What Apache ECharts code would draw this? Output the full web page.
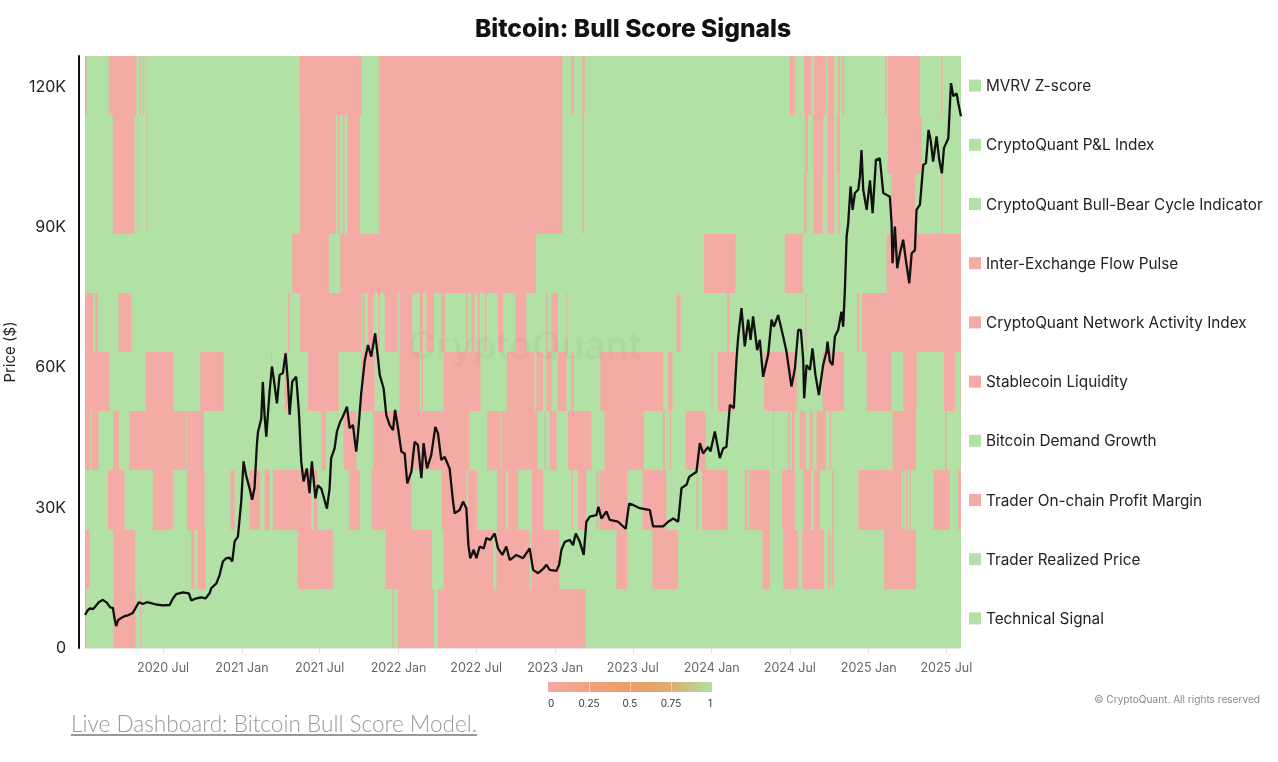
<!DOCTYPE html>
<html>
<head>
<meta charset="utf-8">
<title>Bitcoin: Bull Score Signals</title>
<script src="https://cdn.jsdelivr.net/npm/echarts@6/dist/echarts.min.js"></script>
<style>
  html, body { margin: 0; background: #fff; }
  #chart { width: 1278px; height: 762px; }
  #dashboard {
    position: absolute; left: 71px; top: 710px;
    font: 300 22.6px Lato, sans-serif; color: #999; text-decoration: underline;
  }
</style>
</head>
<body>
<div id="chart"></div>
<a id="dashboard">Live Dashboard: Bitcoin Bull Score Model.</a>
<script>
// indicator rows, top to bottom
const indicators = ['MVRV Z-score', 'CryptoQuant P&L Index', 'CryptoQuant Bull-Bear Cycle Indicator',
  'Inter-Exchange Flow Pulse', 'CryptoQuant Network Activity Index', 'Stablecoin Liquidity',
  'Bitcoin Demand Growth', 'Trader On-chain Profit Margin', 'Trader Realized Price', 'Technical Signal'];
// score on the last day, colours the legend squares
const latestScore = [1, 1, 1, 0, 0, 0, 1, 0, 1, 1];

// bearish periods of each row as start,end pairs, in years since 2020-01-01
const mvrvRed = [0,.01, .152,.327, .352,.358, .37,.377, .39,.393, 1.37,1.764, 1.876,3.047, 3.105,3.119, 3.175,3.19,
  4.499,4.531, 4.588,4.637, 4.652,4.729, 4.739,4.782, 4.807,4.818, 4.833,4.844, 5.105,5.116, 5.126,5.329, 5.467,5.474];
const pnlRed = [.178,.316, .335,.34, .393,.399, 1.374,1.6, 1.614,1.625, 1.646,1.657, 1.674,1.753, 1.876,3.047, 3.175,3.183,
  4.594,4.614, 4.647,4.711, 4.739,4.782, 4.797,4.818, 5.123,5.34];
const bullBearRed = [.178,.316, .335,.34, .393,.399, 1.374,1.6, 1.614,1.625, 1.646,1.657, 1.674,1.753, 1.876,3.047, 3.175,3.183,
  4.59,4.605, 4.652,4.708, 4.739,4.782, 4.807,4.813, 5.144,5.297, 5.467,5.474];
const flowPulseRed = [1.323,1.557, 1.63,2.877, 3.95,4.152, 4.467,4.58, 5.116,5.591];
const networkRed = [0,.054, .065,.082, .214,.295, 1.295,1.306, 1.374,1.764, 1.774,1.785, 1.806,1.838, 1.87,1.881, 1.913,1.997,
  2.008,2.089, 2.136,2.157, 2.179,2.227, 2.275,2.296, 2.434,2.444, 2.466,2.487, 2.508,2.519, 2.551,2.562, 2.636,2.668,
  2.747,2.817, 2.945,2.955, 2.977,3.019, 3.073,3.079, 3.775,3.801, 4.098,4.111, 4.599,4.605, 4.928,4.941, 4.96,5.591];
const stablecoinRed = [0,.156, .386,.565, .736,.884, 1.189,1.194, 1.274,1.293, 1.423,1.619, 1.764,1.849, 2.008,2.136, 2.147,2.157,
  2.289,2.524, 2.693,2.87, 2.881,2.923, 2.945,2.977, 3.017,3.073, 3.105,3.119, 3.29,3.69, 3.722,3.75, 3.999,4.005,
  4.041,4.148, 4.335,4.542, 4.708,4.844, 4.989,5.148, 5.222,5.308, 5.482,5.552, 5.588,5.591];
const demandRed = [0,.033, .04,.086, .182,.216, .284,.646, .65,.757, 1.508,1.536, 1.651,1.732, 1.838,2.451, 2.566,2.651, 2.658,2.888,
  2.934,2.941, 2.966,3.009, 3.083,3.232, 3.317,3.566, 3.688,3.701, 3.732,3.739, 3.835,3.962, 4.392,4.398, 4.488,4.499,
  4.513,4.531, 4.563,4.601, 4.626,4.644, 4.669,4.729, 4.754,4.761, 5.155,5.303, 5.489,5.499];
const marginRed = [.146,.252, .433,.561, .65,.763, .929,.955, 1.05,1.119, 1.146,1.178, 1.199,1.444, 1.461,1.483, 1.685,1.753,
  1.828,2.083, 2.275,2.434, 2.444,2.502, 2.63,2.685, 2.7,2.764, 2.853,2.923, 3.105,3.115, 3.147,3.2, 3.264,3.275, 3.285,3.46,
  3.558,3.711, 3.903,3.913, 3.939,4.101, 4.211,4.23, 4.239,4.371, 4.45,4.531, 4.584,4.633, 4.652,4.69, 4.769,4.78,
  4.935,5.212, 5.222,5.229, 5.24,5.248, 5.261,5.27, 5.414,5.52, 5.573,5.591];
const realizedRed = [0,.029, .182,.321, .678,.699, .72,.769, 1.359,1.582, 1.919,2.215, 2.289,2.604, 2.626,2.838, 2.849,3.026,
  3.392,3.46, 3.622,3.785, 4.324,4.371, 4.456,4.552, 4.577,4.716, 4.743,4.754, 4.765,4.775, 5.101,5.303];
const technicalRed = [0,.008, .182,.322, .352,.359, 1.962,1.97, 1.997,2.227, 2.253,3.194];
const redSpans = [mvrvRed, pnlRed, bullBearRed, flowPulseRed, networkRed, stablecoinRed, demandRed, marginRed, realizedRed, technicalRed];

// BTC price, years since 2020-01-01 and thousands of dollars
const priceYears = [0,.018,.033,.05,.067,.088,.114,.139,.161,.178,.188,.199,.212,.231,.252,.274,.305,.322,.344,.369,.395,.422,.454,.497,
  .54,.561,.582,.625,.663,.678,.71,.742,.769,.795,.806,.838,.859,.88,.901,.923,.94,.955,.976,.997,
  1.012,1.029,1.05,1.067,1.082,1.097,1.104,1.125,1.135,1.146,1.157,1.178,1.193,1.204,1.225,1.242,1.263,1.28,1.295,1.306,1.323,1.348,1.365,
  1.38,1.395,1.416,1.433,1.448,1.471,1.486,1.508,1.544,1.561,1.571,1.593,1.608,1.629,1.646,1.672,1.689,1.71,1.731,1.742,1.763,1.785,
  1.795,1.806,1.827,1.852,1.87,1.881,1.906,1.923,1.944,1.966,1.979,1.998,2.019,2.04,2.057,2.083,2.104,2.125,2.147,2.161,2.183,2.21,2.236,
  2.253,2.274,2.295,2.327,2.349,2.359,2.391,2.413,2.434,2.447,2.459,2.481,2.498,2.519,2.545,2.562,2.587,2.615,2.636,2.664,2.689,2.711,
  2.753,2.796,2.838,2.86,2.892,2.924,2.945,2.966,3.009,3.026,3.041,3.062,3.094,3.115,3.132,3.158,3.183,3.2,3.222,3.264,3.277,3.296,3.328,
  3.349,3.402,3.451,3.473,3.498,3.541,3.605,3.626,3.69,3.722,3.754,3.786,3.807,3.839,3.856,3.903,3.924,3.945,3.977,3.992,4.02,4.052,
  4.073,4.094,4.116,4.141,4.158,4.169,4.19,4.211,4.233,4.248,4.264,4.29,4.307,4.328,4.36,4.382,4.397,4.424,4.456,4.477,4.509,4.531,4.552,
  4.569,4.584,4.59,4.605,4.627,4.643,4.662,4.684,4.711,4.733,4.739,4.754,4.771,4.786,4.807,4.828,4.839,4.85,4.861,4.871,4.886,4.899,4.914,
  4.935,4.946,4.956,4.967,4.989,5.01,5.027,5.048,5.073,5.095,5.137,5.148,5.154,5.169,5.184,5.201,5.222,5.239,5.261,5.276,5.297,5.307,5.329,
  5.35,5.367,5.384,5.397,5.413,5.435,5.452,5.469,5.482,5.51,5.527,5.542,5.563,5.574,5.591];
const priceK = [7.1,8.1,8.5,8.3,8.9,9.8,10.3,9.7,8.7,8.6,6.4,4.7,6,6.4,6.8,7,7.5,8.5,9.8,9.4,9.8,9.6,9.3,9.1,
  9.2,10.6,11.5,11.9,11.7,10.2,10.6,10.8,10.6,11.7,12.8,13.8,15.6,18.5,19.2,19.3,18.5,22.8,23.8,31.3,
  39.9,36.8,34.2,31.7,34.2,43.4,46.2,49,56.9,49.8,45.2,54.8,60.2,57.7,52.3,58.4,58.8,63,57,49.9,57,58,50.6,
  39.9,35.6,38.4,33.1,39.9,32,34.8,34.1,29.8,34.1,40.6,42.7,46.3,48.4,49.5,51.6,47,47.7,42,45.6,54.5,61.3,
  61.6,64.8,62.3,67.3,62,58.4,55.5,49.8,47.7,46.6,50.9,47,42,41.6,35.2,37.7,44.1,43.4,36.3,43.8,38.4,41.3,47.3,
  45.9,40.2,40.9,38.4,31.3,28.8,29.5,31.3,29.9,22,19.2,21,19.2,21.7,21.3,23.5,23.1,24.5,21.3,19.9,21.7,18.8,
  19.9,19.2,21.3,16.7,16,16.9,17.8,16.7,16.5,17.8,21,22.7,23.1,22,24.5,22.7,19.9,27,28.1,28.4,30.2,27.7,29.2,
  27.4,27,25.5,30.9,30.6,29.9,29.5,26,26,27,27.7,27,34.2,34.9,36.6,37.7,43.8,41.6,43,42,46.3,40.6,
  42.7,43,52,51.3,61.6,66.6,72.7,64.5,70.2,65.9,70.9,63.7,65.9,58,62.7,70.2,68.7,71.2,66.6,63.4,55.9,59.8,68,
  68,61.6,53.4,60.5,59.5,64.1,58.4,54.1,60.5,63.4,65.5,61.3,60.5,66.6,68,71.9,68.7,76.6,88,90.8,98.7,93.7,97.3,
  98,100.8,106.5,98,93.7,100,93,104.4,104.7,97.3,96.5,90.8,82.3,90.1,81.2,84.4,87.3,83,78,84.4,85.1,93.7,94.8,
  103.3,103.7,110.8,108.7,104,109.4,104.4,101.5,106.9,109,120.8,118,118.6,116.5,113.7];

const xTickDates = ['2020-07-01', '2021-01-01', '2021-07-01', '2022-01-01', '2022-07-01', '2023-01-01',
  '2023-07-01', '2024-01-01', '2024-07-01', '2025-01-01', '2025-07-01'];
const priceTicks = [0, 30, 60, 90, 120];
const colorBarStops = [0, 0.25, 0.5, 0.75, 1];
const colorBarColors = ['#F4AAA5', '#F0A27F', '#EE9C66', '#DCAB72', '#B1E1A4'];

const GREEN = '#B1E1A4';
const RED = '#F4AAA5';
const FONT = 'Inter, sans-serif';
const START = Date.UTC(2020, 0, 1);
const MONTHS = { 0: 'Jan', 6: 'Jul' };

function yearsToTime(years) {
  return START + years * 365.25 * 86400000;
}

const xMax = yearsToTime(priceYears[priceYears.length - 1]);
const xTicks = xTickDates.map(d => Date.parse(d));

// every row: one green band with its red periods on top
const heatData = [];
redSpans.forEach((spans, row) => {
  heatData.push([START, xMax, row, 1]);
  for (let i = 0; i < spans.length; i += 2) {
    heatData.push([yearsToTime(spans[i]), yearsToTime(spans[i + 1]), row, 0]);
  }
});

function renderSpan(params, api) {
  const from = api.coord([api.value(0), api.value(2)]);
  const to = api.coord([api.value(1), api.value(2)]);
  const band = api.size([0, 1])[1];
  const top = Math.round(from[1] - band / 2);
  const bottom = Math.round(from[1] + band / 2);
  return {
    type: 'rect',
    shape: { x: from[0], y: top, width: to[0] - from[0], height: bottom - top },
    style: { fill: api.value(3) ? GREEN : RED }
  };
}

function renderColorBar(params, api) {
  const i = params.dataIndex;
  const from = api.coord([api.value(0), 0.5]);
  const to = api.coord([api.value(1), 0.5]);
  const h = api.size([0, 1])[1];
  return {
    type: 'rect',
    shape: { x: from[0] + (i ? 0.5 : 0), y: from[1] - h / 2, width: to[0] - from[0] - (i ? 0.5 : 0), height: h },
    style: {
      fill: new echarts.graphic.LinearGradient(0, 0, 1, 0, [
        { offset: 0, color: colorBarColors[i] },
        { offset: 1, color: colorBarColors[i + 1] }
      ])
    }
  };
}

const chart = echarts.init(document.getElementById('chart'));
chart.setOption({
  animation: false,
  backgroundColor: '#fff',
  textStyle: { fontFamily: FONT },
  title: {
    text: 'Bitcoin: Bull Score Signals',
    left: 628, top: 12, textAlign: 'center',
    textStyle: { fontFamily: FONT, fontSize: 24.6, fontWeight: 800, color: '#111' }
  },
  graphic: [
    { type: 'text', left: 408, top: 329, z: 10, silent: true,
      style: { text: 'CryptoQuant', font: '500 38px ' + FONT, fill: 'rgba(130,110,110,0.07)' } },
    { type: 'text', right: 18, top: 695, z: 10,
      style: { text: '© CryptoQuant. All rights reserved', font: '10.1px ' + FONT, fill: '#8a8a8a' } }
  ],
  grid: [
    { left: 85, width: 876, top: 56, height: 592, outerBoundsMode: 'none' },
    { left: 548, width: 164, top: 682, height: 10, outerBoundsMode: 'none' }
  ],
  xAxis: [
    {
      // timestamps on a value axis, so ticks can sit on the half-year dates
      type: 'value', min: START, max: xMax, gridIndex: 0, scale: true,
      splitLine: { show: false },
      axisLine: { lineStyle: { color: '#e6e6e6' } },
      axisTick: { length: 5, lineStyle: { color: '#e0e0e0' }, customValues: xTicks },
      axisLabel: {
        customValues: xTicks, hideOverlap: false, margin: 14, fontSize: 12.5, color: '#666',
        formatter: v => { const d = new Date(v); return d.getUTCFullYear() + ' ' + MONTHS[d.getUTCMonth()]; }
      }
    },
    {
      type: 'value', min: 0, max: 1, interval: 0.25, gridIndex: 1,
      splitLine: { show: false }, axisLine: { show: false }, axisTick: { show: false },
      axisLabel: { margin: 7, fontSize: 10, color: '#333', alignMinLabel: 'left', alignMaxLabel: 'right' }
    }
  ],
  yAxis: [
    {
      type: 'value', min: 0, max: 126.6, gridIndex: 0, offset: 6,
      name: 'Price ($)', nameLocation: 'middle', nameGap: 59,
      nameTextStyle: { fontSize: 15, color: '#222' },
      splitLine: { show: false },
      axisLine: { show: true, lineStyle: { color: '#111', width: 2 } },
      axisTick: { show: false },
      axisLabel: {
        customValues: priceTicks, margin: 13, fontSize: 16, color: '#222', padding: [2, 0, 0, 0],
        formatter: v => (v ? v + 'K' : '0')
      }
    },
    {
      type: 'category', data: indicators, inverse: true, position: 'right', gridIndex: 0,
      splitLine: { show: false }, axisLine: { show: false }, axisTick: { show: false },
      axisLabel: {
        margin: 8, interval: 0,
        formatter: (name, i) => `{${latestScore[i] ? 'up' : 'down'}|}{name|${name}}`,
        rich: {
          up: { width: 12, height: 12, backgroundColor: GREEN },
          down: { width: 12, height: 12, backgroundColor: RED },
          name: { fontFamily: FONT, fontSize: 15.3, color: '#222', padding: [2, 0, 0, 5] }
        }
      }
    },
    { type: 'value', min: 0, max: 1, gridIndex: 1, show: false }
  ],
  series: [
    {
      type: 'custom', name: 'Scores', xAxisIndex: 0, yAxisIndex: 1, z: 1,
      renderItem: renderSpan,
      encode: { x: [0, 1], y: 2 },
      data: heatData,
      silent: true
    },
    {
      type: 'line', name: 'Price', xAxisIndex: 0, yAxisIndex: 0, z: 5,
      showSymbol: false, sampling: 'none',
      lineStyle: { color: '#111', width: 2.3 },
      data: priceYears.map((y, i) => [yearsToTime(y), priceK[i]])
    },
    {
      type: 'custom', name: 'Color bar', xAxisIndex: 1, yAxisIndex: 2,
      renderItem: renderColorBar,
      encode: { x: [0, 1] },
      data: colorBarStops.slice(0, -1).map((s, i) => [s, colorBarStops[i + 1]]),
      silent: true
    }
  ]
});
</script>
</body>
</html>
